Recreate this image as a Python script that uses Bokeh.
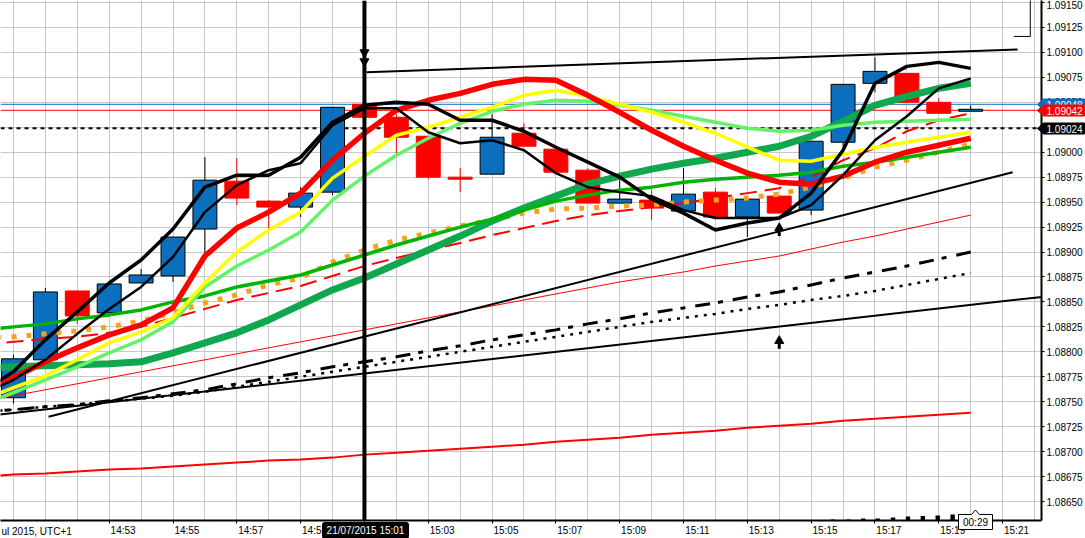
from bokeh.plotting import figure
from bokeh.models import (FixedTicker, Span, Range1d, PrintfTickFormatter,
                          CustomJSTickFormatter, ColumnDataSource)
from bokeh.core.properties import value
from bokeh.embed import file_html
from bokeh.resources import INLINE

# ---------------- data ----------------
minutes = ["14:49", "14:50", "14:51", "14:52", "14:53", "14:54", "14:55", "14:56",
           "14:57", "14:58", "14:59", "15:00", "15:01", "15:02", "15:03", "15:04",
           "15:05", "15:06", "15:07", "15:08", "15:09", "15:10", "15:11", "15:12",
           "15:13", "15:14", "15:15", "15:16", "15:17", "15:18", "15:19", "15:20"]
candle_times = minutes[1:]

opens = [1.08754, 1.08792, 1.08861, 1.08839, 1.08869, 1.08876, 1.08923, 1.08971, 1.08951, 1.08945,
         1.08960, 1.09048, 1.09035, 1.09016, 1.08975, 1.08978, 1.09019, 1.09003, 1.08982, 1.08949,
         1.08952, 1.08941, 1.08960, 1.08935, 1.08956, 1.08942, 1.09010, 1.09069, 1.09079, 1.09050, 1.09041]
highs = [1.08797, 1.08864, 1.08861, 1.08868, 1.08883, 1.08915, 1.08995, 1.08994, 1.08952, 1.08965,
         1.09045, 1.09048, 1.09038, 1.09016, 1.08984, 1.09038, 1.09029, 1.09003, 1.08984, 1.08974,
         1.08962, 1.08984, 1.08964, 1.08953, 1.08956, 1.09011, 1.09068, 1.09095, 1.09079, 1.09054, 1.09047]
lows = [1.08748, 1.08790, 1.08828, 1.08836, 1.08869, 1.08870, 1.08899, 1.08947, 1.08922, 1.08935,
        1.08957, 1.09035, 1.08999, 1.08973, 1.08960, 1.08978, 1.09006, 1.08980, 1.08949, 1.08949,
        1.08932, 1.08941, 1.08935, 1.08915, 1.08939, 1.08937, 1.09005, 1.09060, 1.09050, 1.09039, 1.09041]
closes = [1.08793, 1.08860, 1.08836, 1.08868, 1.08877, 1.08915, 1.08972, 1.08954, 1.08945, 1.08959,
          1.09045, 1.09035, 1.09015, 1.08975, 1.08973, 1.09015, 1.09006, 1.08980, 1.08949, 1.08953,
          1.08944, 1.08958, 1.08935, 1.08953, 1.08939, 1.09011, 1.09068, 1.09081, 1.09050, 1.09039, 1.09043]

black_fast = [1.08760, 1.08780, 1.08812, 1.08840, 1.08869, 1.08892, 1.08923, 1.08965, 1.08977, 1.08977,
              1.08995, 1.09030, 1.09047, 1.09050, 1.09048, 1.09032, 1.09032, 1.09021, 1.09005, 1.08990,
              1.08975, 1.08953, 1.08939, 1.08922, 1.08929, 1.08934, 1.08959, 1.09002, 1.09069, 1.09086,
              1.09090, 1.09084]
black_slow = [1.08757, 1.08772, 1.08792, 1.08818, 1.08843, 1.08865, 1.08895, 1.08940, 1.08967, 1.08982,
              1.08989, 1.09027, 1.09044, 1.09044, 1.09020, 1.09009, 1.09012, 1.09002, 1.08979, 1.08965,
              1.08960, 1.08956, 1.08942, 1.08934, 1.08934, 1.08934, 1.08947, 1.08977, 1.09012, 1.09036,
              1.09064, 1.09074]
red_ma = [1.08760, 1.08774, 1.08790, 1.08804, 1.08817, 1.08827, 1.08844, 1.08896, 1.08924, 1.08940,
          1.08959, 1.08992, 1.09019, 1.09042, 1.09052, 1.09059, 1.09068, 1.09073, 1.09072, 1.09057,
          1.09040, 1.09022, 1.09006, 1.08992, 1.08979, 1.08970, 1.08968, 1.08976, 1.08990, 1.09000,
          1.09007, 1.09014]
yellow_ma = [1.08752, 1.08764, 1.08776, 1.08792, 1.08809, 1.08820, 1.08834, 1.08869, 1.08900, 1.08922,
             1.08940, 1.08974, 1.08996, 1.09017, 1.09025, 1.09035, 1.09045, 1.09057, 1.09062, 1.09056,
             1.09048, 1.09040, 1.09030, 1.09019, 1.09005, 1.08992, 1.08991, 1.08998, 1.09005, 1.09010,
             1.09015, 1.09020]
lightgreen_ma = [1.08747, 1.08759, 1.08772, 1.08785, 1.08799, 1.08812, 1.08830, 1.08865, 1.08886, 1.08902,
                 1.08920, 1.08952, 1.08976, 1.08997, 1.09014, 1.09029, 1.09041, 1.09048, 1.09052, 1.09051,
                 1.09047, 1.09042, 1.09036, 1.09030, 1.09024, 1.09021, 1.09022, 1.09027, 1.09030, 1.09031,
                 1.09032, 1.09033]
green_ma = [1.08822, 1.08825, 1.08828, 1.08833, 1.08837, 1.08842, 1.08850, 1.08856, 1.08865, 1.08871,
            1.08877, 1.08887, 1.08897, 1.08907, 1.08916, 1.08925, 1.08933, 1.08942, 1.08951, 1.08957,
            1.08962, 1.08965, 1.08970, 1.08973, 1.08975, 1.08977, 1.08980, 1.08986, 1.08990, 1.08995,
            1.09000, 1.09005]
teal_ma = [1.08784, 1.08785, 1.08786, 1.08787, 1.08788, 1.08790, 1.08799, 1.08809, 1.08819, 1.08832,
           1.08847, 1.08862, 1.08874, 1.08888, 1.08902, 1.08916, 1.08931, 1.08944, 1.08956, 1.08968,
           1.08976, 1.08983, 1.08989, 1.08994, 1.09000, 1.09006, 1.09016, 1.09031, 1.09047, 1.09056,
           1.09064, 1.09069]
orange_ma = [1.08814, 1.08815, 1.08818, 1.08821, 1.08825, 1.08831, 1.08839, 1.08849, 1.08857, 1.08867,
             1.08874, 1.08890, 1.08902, 1.08912, 1.08919, 1.08926, 1.08932, 1.08939, 1.08943, 1.08944,
             1.08946, 1.08947, 1.08950, 1.08952, 1.08954, 1.08958, 1.08965, 1.08974, 1.08985, 1.08992,
             1.09000, 1.09008]
red_dashed = [1.08807, 1.08810, 1.08813, 1.08815, 1.08819, 1.08825, 1.08834, 1.08843, 1.08852, 1.08859,
              1.08866, 1.08876, 1.08886, 1.08894, 1.08902, 1.08909, 1.08917, 1.08924, 1.08931, 1.08937,
              1.08941, 1.08945, 1.08949, 1.08954, 1.08959, 1.08964, 1.08975, 1.08992, 1.09004, 1.09021,
              1.09032, 1.09039]
red_thin = [1.08751, 1.08756, 1.08762, 1.08768, 1.08774, 1.08780, 1.08786, 1.08792, 1.08798, 1.08804,
            1.08810, 1.08816, 1.08822, 1.08828, 1.08834, 1.08840, 1.08846, 1.08852, 1.08858, 1.08864,
            1.08870, 1.08875, 1.08880, 1.08886, 1.08891, 1.08896, 1.08903, 1.08910, 1.08916, 1.08923,
            1.08930, 1.08937]
red_low = [1.08675, 1.08677, 1.08678, 1.08680, 1.08682, 1.08683, 1.08685, 1.08687, 1.08689, 1.08691,
           1.08692, 1.08694, 1.08697, 1.08699, 1.08701, 1.08703, 1.08705, 1.08707, 1.08710, 1.08712,
           1.08714, 1.08717, 1.08719, 1.08721, 1.08724, 1.08726, 1.08728, 1.08731, 1.08733, 1.08735,
           1.08737, 1.08739]
black_dashdot = [1.08740, 1.08742, 1.08745, 1.08747, 1.08751, 1.08754, 1.08758, 1.08762, 1.08768, 1.08774,
                 1.08779, 1.08785, 1.08790, 1.08795, 1.08801, 1.08806, 1.08812, 1.08817, 1.08822, 1.08828,
                 1.08833, 1.08839, 1.08844, 1.08849, 1.08855, 1.08860, 1.08867, 1.08874, 1.08880, 1.08886,
                 1.08893, 1.08900]
black_dotted = [1.08740, 1.08742, 1.08745, 1.08747, 1.08750, 1.08753, 1.08756, 1.08760, 1.08765, 1.08770,
                1.08775, 1.08780, 1.08785, 1.08790, 1.08795, 1.08800, 1.08805, 1.08810, 1.08815, 1.08820,
                1.08825, 1.08830, 1.08834, 1.08838, 1.08843, 1.08847, 1.08852, 1.08856, 1.08861, 1.08867,
                1.08873, 1.08879]

# hand-drawn trend lines (start time, end time) / (start price, end price)
trend_times = [("14:51:06", "15:21:19"), ("14:49:00", "15:22:30"), ("15:01:04", "15:21:28")]
trend_prices = [(1.08735, 1.08980), (1.08735, 1.08856), (1.09080, 1.09103)]

ask_price = 1.09048
bid_price = 1.09042
level_price = 1.09024
marker_time = "15:01"
marker_date = "21/07/2015"
timezone_text = "ul 2015, UTC+1"
countdown_text = "00:29"
countdown_time = "15:20"
arrow_down_prices = [1.09100, 1.09091]
arrow_up_times = ["15:14", "15:14"]
arrow_up_prices = [1.08924, 1.08811]
bracket_times = ["15:21:21", "15:21:52"]
bracket_prices = [1.09116, 1.09160]
mark_times = ["15:15:41", "15:16:10", "15:16:38", "15:17:05", "15:17:34",
              "15:18:02", "15:18:30", "15:18:58", "15:19:26"]
mark_heights = [0.00001, 0.00001, 0.00002, 0.00002, 0.00003, 0.00004, 0.000045, 0.00005, 0.00006]

xtick_labels = ["14:53", "14:55", "14:57", "14:59", "15:01", "15:03", "15:05", "15:07",
                "15:09", "15:11", "15:13", "15:15", "15:17", "15:19", "15:21"]
ytick_values = [1.08650, 1.08675, 1.08700, 1.08725, 1.08750, 1.08775, 1.08800, 1.08825, 1.08850,
                1.08875, 1.08900, 1.08925, 1.08950, 1.08975, 1.09000, 1.09025, 1.09050, 1.09075,
                1.09100, 1.09125, 1.09150]


def tm(s):
    parts = [float(v) for v in s.split(":")]
    t = parts[0] * 60 + parts[1]
    if len(parts) > 2:
        t += parts[2] / 60.0
    return t


# ---------------- layout constants ----------------
FONT = "Liberation Sans"
BLUE = "#0b6fbe"
RED = "#ff0000"
W, H = 1085, 538
FRAME_W, FRAME_H = 1044, 521
MPX = 1 / 32.0        # minutes per pixel
PPX = 0.00001         # price per pixel
X0 = tm(marker_time) - 365 * MPX
X1 = X0 + FRAME_W * MPX
Y1 = 1.09152
Y0 = Y1 - FRAME_H * PPX

xs = [tm(s) for s in minutes]
cx = [tm(s) for s in candle_times]

p = figure(width=W, height=H, x_range=Range1d(X0, X1), y_range=Range1d(Y0, Y1),
           y_axis_location="right", toolbar_location=None, output_backend="svg",
           min_border_left=0, min_border_top=0, min_border_right=W - FRAME_W,
           min_border_bottom=H - FRAME_H,
           background_fill_color="white", border_fill_color="white")
p.outline_line_color = None

# grids
p.xgrid.ticker = FixedTicker(ticks=xs[1:] + [tm("15:21"), tm("15:22")])
p.xgrid.grid_line_color = "#c8c8c8"
p.ygrid.grid_line_color = "#c8c8c8"

# axes
p.xaxis.ticker = FixedTicker(ticks=[tm(s) for s in xtick_labels])
p.xaxis.formatter = CustomJSTickFormatter(code="""
const h = Math.floor(tick / 60);
const m = Math.round(tick - h * 60);
return "\\u00a0".repeat(10) + h + ":" + (m < 10 ? "0" : "") + m;
""")
p.yaxis.ticker = FixedTicker(ticks=ytick_values)
p.yaxis.formatter = PrintfTickFormatter(format="%.5f")
for ax in (p.xaxis[0], p.yaxis[0]):
    ax.axis_line_color = "black"
    ax.axis_line_width = 2
    ax.major_tick_line_color = "black"
    ax.major_tick_in = 0
    ax.minor_tick_line_color = None
    ax.major_label_text_font = FONT
    ax.major_label_text_font_size = "10px"
    ax.major_label_text_color = "black"
p.xaxis.major_tick_out = 3
p.xaxis.major_label_standoff = 1
p.yaxis.major_tick_out = 3
p.yaxis.major_label_standoff = 2

# price lines (behind)
p.add_layout(Span(location=ask_price, dimension="width", line_color="#1f6fbf", line_width=1, level="underlay"))
p.add_layout(Span(location=bid_price, dimension="width", line_color=RED, line_width=1, level="underlay"))
p.add_layout(Span(location=level_price, dimension="width", line_color="black", line_width=2,
                  line_dash="4 4", level="underlay"))

# candles
up = [c >= o for o, c in zip(opens, closes)]
src = ColumnDataSource(dict(
    x=cx, high=highs, low=lows,
    top=[max(o, c) for o, c in zip(opens, closes)],
    bottom=[min(o, c) for o, c in zip(opens, closes)],
    fill=[BLUE if u else RED for u in up],
    edge=["black" if u else RED for u in up],
))
p.segment(x0="x", y0="low", x1="x", y1="high", source=src, line_color="edge", line_width=1)
p.vbar(x="x", width=0.75, top="top", bottom="bottom", source=src,
       fill_color="fill", line_color="edge", line_width=1)

# lower bands and trend lines
p.line(xs, red_low, line_color=RED, line_width=2)
p.line(xs, black_dotted, line_color="black", line_width=2.5, line_dash="3 6")
p.line(xs, black_dashdot, line_color="black", line_width=3, line_dash="15 8 5 10")
p.line(xs, red_thin, line_color=RED, line_width=1)
for (ta, tb), (pa, pb) in zip(trend_times, trend_prices):
    p.line([tm(ta), tm(tb)], [pa, pb], line_color="black", line_width=2)

# moving averages
p.line(xs, red_dashed, line_color=RED, line_width=2, line_dash="17 8")
p.line(xs, orange_ma, line_color="#f7a21b", line_width=5, line_dash="5 10")
p.line(xs, teal_ma, line_color="#10a84e", line_width=7)
p.line(xs, green_ma, line_color="#00b400", line_width=3.5)
p.line(xs, lightgreen_ma, line_color="#66f266", line_width=3.5)
p.line(xs, yellow_ma, line_color="#ffff00", line_width=3.5)
p.line(xs, red_ma, line_color=RED, line_width=5.5)
p.line(xs, black_slow, line_color="black", line_width=2.5)
p.line(xs, black_fast, line_color="black", line_width=3.5)

# markers
p.add_layout(Span(location=tm(marker_time), dimension="height", line_color="black", line_width=4))
p.scatter([tm(marker_time)] * 2, arrow_down_prices, marker="inverted_triangle", size=9,
          fill_color="black", line_color="black")
p.scatter([tm(t) for t in arrow_up_times], arrow_up_prices, marker="triangle", size=9,
          fill_color="black", line_color="black")
p.segment(x0=[tm(t) for t in arrow_up_times], y0=[v - 8 * PPX for v in arrow_up_prices],
          x1=[tm(t) for t in arrow_up_times], y1=arrow_up_prices, line_color="black", line_width=3)
p.line([tm(bracket_times[0]), tm(bracket_times[1]), tm(bracket_times[1])],
       [bracket_prices[0], bracket_prices[0], bracket_prices[1]], line_color="black", line_width=1)
mt = [tm(t) for t in mark_times]
p.quad(left=[t - 2.2 * MPX for t in mt], right=[t + 2.2 * MPX for t in mt], bottom=[Y0] * len(mt),
       top=[Y0 + h for h in mark_heights], fill_color="black", line_color=None)

# ---------------- transparent overlay (separate root) for the tags that sit on the axes ----------------
OX1 = X0 + W * MPX
OY0 = Y1 - H * PPX
ov = figure(width=W, height=H, x_range=Range1d(X0, OX1), y_range=Range1d(OY0, Y1),
            x_axis_type=None, y_axis_type=None, toolbar_location=None, output_backend="svg",
            min_border=0, background_fill_color=None, border_fill_color=None)
ov.outline_line_color = None
ov.grid.visible = False

# price tags on the right axis
tag_l = X0 + 1037 * MPX
tag_r = X0 + 1084 * MPX
for price, bg in ((ask_price, BLUE), (bid_price, RED), (level_price, "black")):
    hh = 5.5 * PPX
    ov.patch([tag_l, tag_l + 6 * MPX, tag_r, tag_r, tag_l + 6 * MPX],
             [price, price + hh, price + hh, price - hh, price - hh],
             fill_color=bg, line_color=bg)
    ov.text(x=[tag_l + 9 * MPX], y=[price], text=["%.5f" % price], text_color="white",
            text_font=value(FONT), text_font_size="10px", text_align="left",
            text_baseline="middle")

# date tag under the marker line
date_y = Y1 - 530 * PPX
ov.rect(x=[tm(marker_time)], y=[date_y], width=86 * MPX, height=16 * PPX,
        fill_color="black", line_color="black", border_radius=2)
ov.text(x=[tm(marker_time)], y=[date_y], text=[marker_date + " " + marker_time],
        text_color="white", text_font=value(FONT), text_font_size="10px",
        text_align="center", text_baseline="middle")

# timezone text at the far left of the time axis
ov.text(x=[X0 + 1 * MPX], y=[Y1 - 531 * PPX], text=[timezone_text], text_color="black",
        text_font=value(FONT), text_font_size="10px", text_align="left", text_baseline="middle")

# countdown tag
ct = tm(countdown_time) + 2 * MPX
cy = Y1 - 521.5 * PPX
ov.patch([ct - 17 * MPX, ct - 4 * MPX, ct, ct + 4 * MPX, ct + 17 * MPX, ct + 17 * MPX, ct - 17 * MPX],
         [cy + 7.5 * PPX, cy + 7.5 * PPX, cy + 12 * PPX, cy + 7.5 * PPX, cy + 7.5 * PPX,
          cy - 7.5 * PPX, cy - 7.5 * PPX],
         fill_color="white", line_color="black", line_width=1)
ov.text(x=[ct], y=[cy], text=[countdown_text], text_color="black", text_font=value(FONT),
        text_font_size="10px", text_align="center", text_baseline="middle")

# pull the overlay up so that it lies exactly over the chart
ov.margin = (-H, 0, 0, 0)
open("out.html", "w").write(file_html([p, ov], INLINE))
